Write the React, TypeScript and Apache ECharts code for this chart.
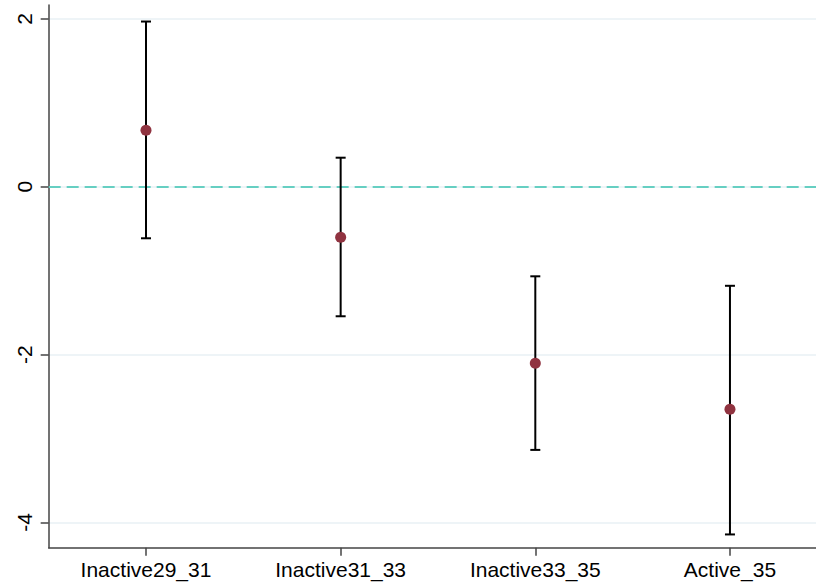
import React, { useEffect, useRef } from "react";
import * as echarts from "echarts";

const categories = ["Inactive29_31", "Inactive31_33", "Inactive33_35", "Active_35"];
const estimates = [0.673, -0.602, -2.104, -2.652];
const upperCI = [1.968, 0.346, -1.067, -1.18];
const lowerCI = [-0.614, -1.543, -3.135, -4.142];
const yTicks = [-4, -2, 0, 2];
const xTicks = [1, 2, 3, 4];

export default function App() {
  const ref = useRef<HTMLDivElement>(null);
  useEffect(() => {
    document.body.style.margin = "0";
    const chart = echarts.init(ref.current!, null, { renderer: "svg" });
    const font = "'Liberation Sans', Arial, Helvetica, sans-serif";
    const ciData = categories.map((_, i) => [i + 1, lowerCI[i], upperCI[i]]);
    const ptData = categories.map((_, i) => [i + 1, estimates[i]]);
    chart.setOption({
      animation: false,
      backgroundColor: "#ffffff",
      grid: { left: 48.67, right: 0, top: 5, bottom: 35.3 },
      xAxis: {
        type: "value",
        min: 0.5,
        max: 4.442,
        axisLine: { show: true, onZero: false, lineStyle: { color: "#444444", width: 1.5 } },
        axisTick: { show: true, length: 8, customValues: xTicks, lineStyle: { color: "#444444", width: 1.5 } },
        axisLabel: {
          customValues: xTicks,
          margin: 11,
          fontSize: 21,
          fontFamily: font,
          color: "#000000",
          formatter: (v: number) => categories[Math.round(v) - 1] ?? "",
        },
        splitLine: { show: false },
      },
      yAxis: {
        type: "value",
        min: -4.3,
        max: 2.165,
        axisLine: { show: true, onZero: false, lineStyle: { color: "#444444", width: 1.5 } },
        axisTick: { show: true, length: 8, customValues: yTicks, lineStyle: { color: "#444444", width: 1.5 } },
        axisLabel: {
          customValues: yTicks,
          rotate: 90,
          margin: 14,
          fontSize: 21,
          fontFamily: font,
          color: "#000000",
        },
        splitLine: { show: true, lineStyle: { color: "#e8f1f4", width: 1.5 } },
      },
      series: [
        {
          type: "custom",
          data: ciData,
          z: 2,
          renderItem: (params: any, api: any) => {
            const x = api.value(0);
            const lo = api.coord([x, api.value(1)]);
            const hi = api.coord([x, api.value(2)]);
            const cap = 5;
            const style = { stroke: "#000000", lineWidth: 2 };
            return {
              type: "group",
              children: [
                { type: "line", shape: { x1: lo[0], y1: lo[1], x2: hi[0], y2: hi[1] }, style },
                { type: "line", shape: { x1: lo[0] - cap, y1: lo[1], x2: lo[0] + cap, y2: lo[1] }, style },
                { type: "line", shape: { x1: hi[0] - cap, y1: hi[1], x2: hi[0] + cap, y2: hi[1] }, style },
              ],
            };
          },
        },
        {
          type: "scatter",
          data: ptData,
          symbol: "circle",
          symbolSize: 11,
          z: 3,
          itemStyle: { color: "#903340", opacity: 1 },
          markLine: {
            silent: true,
            symbol: "none",
            label: { show: false },
            lineStyle: { color: "#66cfc2", type: [12, 6], width: 2, opacity: 1 },
            data: [{ yAxis: 0 }],
            z: 1,
          },
        },
      ],
    });
    return () => chart.dispose();
  }, []);
  return <div ref={ref} style={{ width: 816, height: 583 }} />;
}
